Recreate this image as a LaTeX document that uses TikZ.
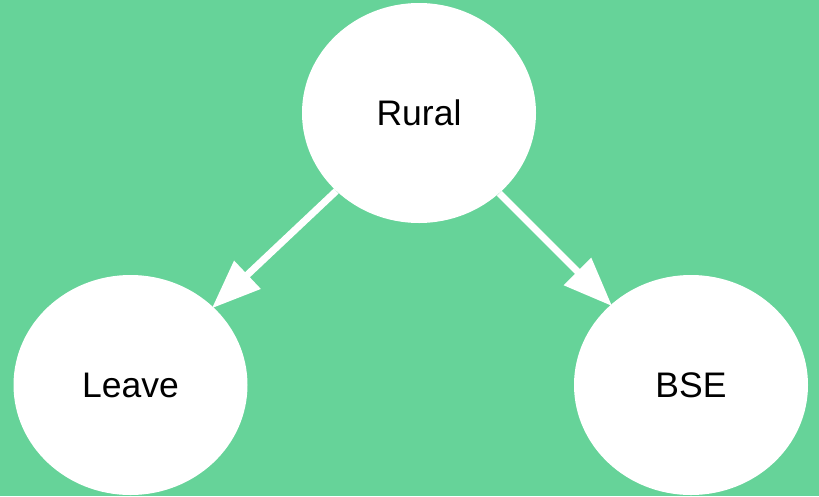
\documentclass[tikz,border=0pt]{standalone}
\usepackage{fontspec}
\setmainfont{Liberation Sans}
\usetikzlibrary{arrows.meta,shapes.geometric}
\definecolor{bggreen}{HTML}{66D399}
\begin{document}
\begin{tikzpicture}[x=1pt,y=-1pt,
  circnode/.style={ellipse,fill=white,minimum width=234pt,minimum height=220pt,inner sep=0pt,font=\fontsize{35.5}{40}\selectfont},
  conn/.style={white,line width=7pt,-{Triangle[length=49pt,width=37pt]},shorten >=-2pt}]
\fill[bggreen] (0,0) rectangle (819,496);
\useasboundingbox (0,0) rectangle (819,496);
\node[circnode] (rural) at (419,113) {Rural};
\node[circnode] (leave) at (130.5,385) {Leave};
\node[circnode] (bse) at (691,385) {BSE};
\draw[conn] (rural) -- (leave);
\draw[conn] (rural) -- (bse);
\end{tikzpicture}
\end{document}
